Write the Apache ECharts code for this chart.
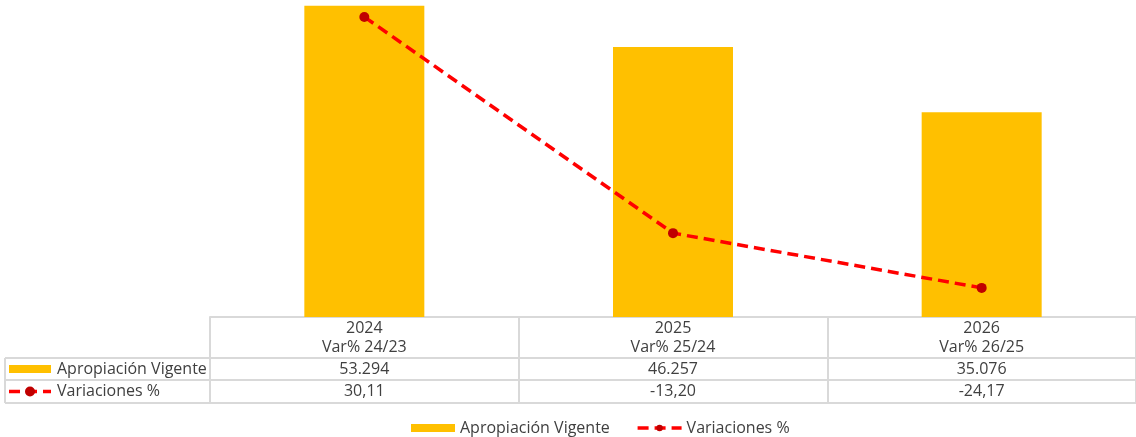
<!DOCTYPE html>
<html>
<head>
<meta charset="utf-8">
<script src="https://cdn.jsdelivr.net/npm/echarts@6/dist/echarts.min.js"></script>
<style>
  html, body { margin: 0; padding: 0; background: #fff; }
  #chart { width: 1136px; height: 437px; }
</style>
</head>
<body>
<div id="chart"></div>
<script>
// datos
const years = ["2024", "2025", "2026"];
const varLabels = ["Var% 24/23", "Var% 25/24", "Var% 26/25"];
const apropiacion = [53294, 46257, 35076];
const variaciones = [30.11, -13.20, -24.17];

const FONT = "Open Sans";
const FS = 16;
const TXT = "#404040";
const GRID = "#d9d9d9";
const BAR = "#FFC000";
const LINE = "#FF0000";
const DOT = "#C00000";

const fmtMiles = v => String(v).replace(/\B(?=(\d{3})+(?!\d))/g, ".");
const fmtPct = v => v.toFixed(2).replace(".", ",");

let chart = echarts.init(document.getElementById("chart"));

const gridLeft = 210, gridTop = 0, gridBottom = 120;
const tableTop = 437 - gridBottom; // 317
const rowA = 358, rowB = 380, rowC = 403;

chart.setOption({
  animation: false,
  textStyle: { fontFamily: FONT },
  grid: { left: gridLeft, right: -2, top: gridTop, bottom: gridBottom },
  legend: {
    left: 406, top: 415,
    itemGap: 26,
    itemWidth: 44, itemHeight: 8,
    textStyle: { color: TXT, fontSize: FS, fontFamily: FONT },
    data: [
      { name: "Apropiación Vigente", icon: "rect" },
      { name: "Variaciones %", lineStyle: { width: 3.5 } }
    ]
  },
  xAxis: {
    type: "category",
    data: years.map((y, i) => y + "\n" + varLabels[i]),
    axisLine: { show: true, lineStyle: { color: GRID, width: 2 } },
    axisTick: { show: true, length: rowC - tableTop, lineStyle: { color: GRID, width: 2 } },
    axisLabel: { color: TXT, fontSize: FS, lineHeight: 19, margin: 2, fontFamily: FONT }
  },
  yAxis: [
    { type: "value", min: 0, max: 54300, show: false, splitLine: { show: false } },
    { type: "value", min: -30, max: 33.5, show: false, splitLine: { show: false } }
  ],
  series: [
    {
      name: "Apropiación Vigente",
      type: "bar",
      data: apropiacion,
      barWidth: 120,
      itemStyle: { color: BAR }
    },
    {
      name: "Variaciones %",
      type: "line",
      yAxisIndex: 1,
      data: variaciones,
      symbol: "circle",
      symbolSize: 10,
      itemStyle: { color: DOT },
      lineStyle: { color: LINE, width: 3.5, type: [11, 6] }
    }
  ]
});

// tabla de datos
const g = [];
const hline = (y, x1) => g.push({
  type: "line", silent: true,
  shape: { x1: x1, y1: y, x2: 1136, y2: y },
  style: { stroke: GRID, lineWidth: 2 }
});
hline(rowA, 5); hline(rowB, 5); hline(rowC, 5);
g.push({ type: "line", silent: true, shape: { x1: 5, y1: rowA, x2: 5, y2: rowC }, style: { stroke: GRID, lineWidth: 2 } });

const rowMidA = (rowA + rowB) / 2, rowMidB = (rowB + rowC) / 2;
const txt = (x, y, s, align) => g.push({
  type: "text", silent: true, x: x, y: y,
  style: { text: s, fill: TXT, font: FS + "px '" + FONT + "'", align: align || "center", verticalAlign: "middle" }
});

// claves de leyenda en la tabla
g.push({ type: "rect", silent: true, shape: { x: 9, y: rowMidA - 4, width: 42, height: 8 }, style: { fill: BAR } });
g.push({ type: "line", silent: true, shape: { x1: 9, y1: rowMidB, x2: 51, y2: rowMidB }, style: { stroke: LINE, lineWidth: 3.5, lineDash: [11, 6] } });
g.push({ type: "circle", silent: true, shape: { cx: 30, cy: rowMidB, r: 5 }, style: { fill: DOT } });
txt(57, rowMidA, "Apropiación Vigente", "left");
txt(57, rowMidB, "Variaciones %", "left");

years.forEach((y, i) => {
  const cx = chart.convertToPixel({ xAxisIndex: 0 }, i);
  txt(cx, rowMidA, fmtMiles(apropiacion[i]));
  txt(cx, rowMidB, fmtPct(variaciones[i]));
});

chart.setOption({ graphic: g });
</script>
</body>
</html>
